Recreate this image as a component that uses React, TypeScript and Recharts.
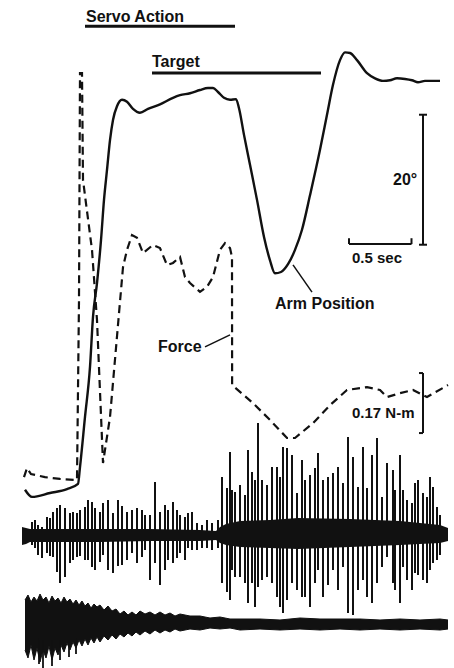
import { ComposedChart, Line, Area, XAxis, YAxis, ReferenceLine } from 'recharts'

// time in ms (0.5 sec scale bar = 500), arm position in degrees, force in N-m,
// EMG amplitudes in arbitrary units around each trace's baseline

const posTime = [24, 80, 224, 360, 448, 464, 504, 544, 568, 600, 632, 656, 680, 704, 728, 760, 800, 840, 888, 944, 1008, 1104, 1208, 1264, 1344, 1424, 1488, 1528, 1568, 1616, 1664, 1712, 1736, 1776, 1824, 1880, 1936, 1984, 2024, 2072, 2128, 2184, 2240, 2304, 2384, 2440, 2488, 2544, 2584, 2624, 2680, 2760, 2824, 2888, 2944, 3000, 3064, 3120, 3168, 3224, 3344]
const posDeg = [0.5, -0.6, 0, 0.6, 1.4, 4.0, 11.7, 19.4, 27.1, 32.3, 38.9, 45.1, 49.7, 54.3, 57.4, 59.5, 60.5, 60.2, 59.1, 58.5, 59.1, 59.8, 60.8, 61.2, 61.5, 62.0, 62.3, 62.3, 61.7, 60.8, 60.5, 60.6, 59.2, 55.1, 50.5, 45.1, 39.4, 35.8, 33.8, 34.0, 35.2, 37.4, 40.5, 45.8, 52.8, 58.2, 62.8, 66.6, 67.8, 67.7, 66.6, 64.6, 63.8, 63.4, 63.5, 63.8, 63.7, 63.5, 63.2, 63.4, 63.4]

const forceTime = [16, 40, 72, 184, 304, 440, 456, 464, 480, 488, 560, 600, 648, 704, 808, 840, 880, 920, 968, 1048, 1104, 1160, 1208, 1264, 1304, 1344, 1424, 1480, 1528, 1584, 1624, 1664, 1680, 1681, 1848, 1984, 2120, 2184, 2328, 2464, 2600, 2760, 2864, 2920, 3024, 3128, 3240, 3408]
const forceNm = [0.008, 0.034, 0.017, 0.008, 0.003, 0, 0.51, 1.153, 1.153, 0.85, 0.652, 0.453, 0.048, 0.178, 0.603, 0.652, 0.694, 0.686, 0.643, 0.666, 0.657, 0.609, 0.615, 0.632, 0.575, 0.558, 0.533, 0.547, 0.575, 0.652, 0.671, 0.657, 0.632, 0.269, 0.218, 0.17, 0.119, 0.119, 0.161, 0.212, 0.255, 0.263, 0.255, 0.235, 0.246, 0.255, 0.235, 0.269]

const emg1Time = [80, 104, 128, 160, 200, 224, 248, 280, 304, 344, 384, 408, 440, 464, 504, 528, 560, 584, 624, 648, 688, 728, 768, 800, 840, 880, 920, 960, 984, 1024, 1064, 1104, 1144, 1168, 1208, 1240, 1264, 1304, 1328, 1360, 1400, 1440, 1480, 1520, 1568,
  1600, 1640, 1664, 1680, 1704, 1744, 1784, 1808, 1840, 1864, 1888, 1920, 1960, 2000, 2040, 2064, 2088, 2120, 2160, 2200, 2240, 2264, 2304, 2344, 2368, 2408, 2448, 2488, 2528, 2568, 2608, 2648, 2688, 2728, 2760, 2800, 2840, 2880, 2920, 2968, 2984, 3024, 3048, 3080, 3120, 3144, 3168, 3208, 3240, 3264, 3288, 3320, 3344]
const emg1Up = [13, 15, 10, 8, 18, 17, 23, 27, 30, 27, 22, 23, 22, 25, 28, 35, 33, 27, 23, 32, 35, 22, 35, 29, 23, 25, 27, 25, 20, 20, 53, 23, 30, 25, 33, 25, 20, 18, 22, 23, 12, 10, 15, 12, 15,
  58, 47, 83, 45, 43, 50, 40, 85, 63, 55, 112, 55, 50, 68, 68, 58, 88, 87, 80, 42, 75, 55, 60, 67, 82, 55, 58, 62, 68, 52, 98, 78, 48, 88, 47, 80, 97, 38, 72, 65, 45, 80, 45, 35, 32, 52, 55, 42, 38, 58, 48, 28, 20]
const emg1Down = [-10, -13, -20, -23, -18, -21, -22, -37, -48, -42, -28, -25, -22, -21, -25, -25, -32, -35, -27, -20, -35, -38, -31, -30, -25, -18, -28, -22, -15, -45, -28, -50, -35, -25, -28, -23, -18, -25, -13, -15, -15, -13, -13, -15, -13,
  -48, -57, -65, -35, -42, -42, -48, -68, -48, -72, -52, -45, -42, -48, -62, -72, -78, -65, -48, -55, -62, -62, -72, -48, -35, -62, -50, -35, -55, -32, -78, -80, -55, -45, -62, -68, -48, -32, -22, -48, -55, -68, -32, -45, -55, -38, -40, -45, -48, -35, -28, -25, -20]

const emg1BandTime = [0, 32, 64, 624, 1024, 1424, 1552, 1584, 1632, 1744, 1984, 2208, 2624, 3024, 3344, 3408]
const emg1BandHi = [8, 7, 6, 6, 6, 5, 4, 8, 11, 14, 15, 17, 16, 14, 10, 7]
const emg1BandLo = [-10, -9, -7, -7, -6, -6, -5, -8, -10, -12, -13, -14, -12, -10, -8, -6]

const emg2Time = [24, 48, 72, 96, 120, 144, 168, 192, 216, 240, 264, 288, 312, 336, 360, 384, 408, 432, 456, 480, 504, 528, 552, 576, 600, 624, 656, 688, 720, 752, 784, 816, 848, 880, 912, 944, 984, 1024, 1064, 1104, 1144, 1184, 1224, 1264, 1344, 1424, 1504, 1584, 1664, 1744, 1904, 2064, 2224, 2384, 2544, 2704, 2864, 3024, 3184, 3344, 3408]
const emg2Hi = [24, 29, 22, 27, 23, 30, 24, 27, 21, 28, 23, 26, 21, 27, 22, 25, 20, 24, 19, 23, 18, 21, 16, 20, 17, 19, 14, 18, 13, 15, 10, 13, 9, 12, 9, 13, 10, 12, 9, 12, 9, 11, 8, 10, 8, 8, 6, 7, 5, 5, 5, 4, 6, 5, 5, 5, 4, 5, 4, 5, 4]
const emg2Lo = [-26, -34, -21, -36, -24, -38, -26, -34, -22, -36, -24, -31, -21, -28, -19, -26, -18, -24, -16, -22, -15, -21, -14, -19, -13, -18, -12, -16, -11, -15, -10, -13, -9, -12, -8, -11, -7, -10, -6, -9, -6, -8, -5, -7, -5, -6, -4, -5, -4, -6, -5, -6, -5, -6, -5, -6, -5, -6, -5, -6, -5]

// a few stray strokes hanging below the early part of the lower EMG trace
const emg2StrokeTime = [136, 168, 240, 304, 376, 432]
const emg2StrokeLow = [-40, -44, -42, -36, -33, -30]

const posData = posTime.map((t, i) => ({ t, deg: posDeg[i] }))
const forceData = forceTime.map((t, i) => ({ t, nm: forceNm[i] }))
const emg1Data = emg1Time.flatMap((t, i) => [
  { t, v: 0 },
  { t, v: emg1Up[i] },
  { t, v: emg1Down[i] },
  { t, v: 0 },
])
const emg1Band = emg1BandTime.map((t, i) => ({ t, range: [emg1BandLo[i], emg1BandHi[i]] }))
const emg2Band = emg2Time.map((t, i) => ({ t, range: [emg2Lo[i], emg2Hi[i]] }))
const emg2Strokes = emg2StrokeTime.flatMap((t, i) => [
  { t, v: -15 },
  { t, v: emg2StrokeLow[i] },
  { t, v: -15 },
])

const ink = '#111'
const font = { fontFamily: '"Liberation Sans", Arial, sans-serif', fontWeight: 700, fill: ink }

export default function App() {
  return (
    <div style={{ position: 'absolute', left: 0, top: 0, width: 454, height: 668, background: '#fff' }}>
      <ComposedChart width={454} height={668} margin={{ top: 0, right: 0, bottom: 0, left: 0 }}>
        <XAxis type="number" dataKey="t" domain={[-176, 3456]} hide allowDataOverflow />
        <YAxis yAxisId="deg" type="number" domain={[-26.92, 75.85]} hide allowDataOverflow />
        <YAxis yAxisId="nm" type="number" domain={[-0.5327, 1.36]} hide allowDataOverflow />
        <YAxis yAxisId="emg1" type="number" domain={[-133, 535]} hide allowDataOverflow />
        <YAxis yAxisId="emg2" type="number" domain={[-44, 624]} hide allowDataOverflow />

        <Area yAxisId="emg1" data={emg1Band} dataKey="range" type="linear" stroke="none" fill={ink} fillOpacity={1} dot={false} activeDot={false} isAnimationActive={false} />
        <Line yAxisId="emg1" data={emg1Data} dataKey="v" type="linear" stroke={ink} strokeWidth={2} dot={false} activeDot={false} isAnimationActive={false} />
        <Area yAxisId="emg2" data={emg2Band} dataKey="range" type="linear" stroke={ink} strokeWidth={1} fill={ink} fillOpacity={1} dot={false} activeDot={false} isAnimationActive={false} />
        <Line yAxisId="emg2" data={emg2Strokes} dataKey="v" type="linear" stroke={ink} strokeWidth={1.8} dot={false} activeDot={false} isAnimationActive={false} />

        <Line yAxisId="deg" data={posData} dataKey="deg" type="monotone" stroke={ink} strokeWidth={2.4} dot={false} activeDot={false} isAnimationActive={false} />
        <Line yAxisId="nm" data={forceData} dataKey="nm" type="linear" stroke={ink} strokeWidth={2.2} strokeDasharray="8 5" dot={false} activeDot={false} isAnimationActive={false} />

        {/* label bars */}
        <ReferenceLine yAxisId="deg" segment={[{ x: 504, y: 71.8 }, { x: 1704, y: 71.8 }]} stroke={ink} strokeWidth={3} />
        <ReferenceLine yAxisId="deg" segment={[{ x: 1040, y: 64.6 }, { x: 2392, y: 64.6 }]} stroke={ink} strokeWidth={3} />

        {/* 20 deg scale */}
        <ReferenceLine yAxisId="deg" segment={[{ x: 3208, y: 38.2 }, { x: 3208, y: 58.2 }]} stroke={ink} strokeWidth={2} />
        <ReferenceLine yAxisId="deg" segment={[{ x: 3176, y: 58.2 }, { x: 3240, y: 58.2 }]} stroke={ink} strokeWidth={2} />
        <ReferenceLine yAxisId="deg" segment={[{ x: 3176, y: 38.2 }, { x: 3240, y: 38.2 }]} stroke={ink} strokeWidth={2} />

        {/* 0.5 sec scale */}
        <ReferenceLine yAxisId="deg" segment={[{ x: 2616, y: 38.3 }, { x: 3116, y: 38.3 }]} stroke={ink} strokeWidth={2} />
        <ReferenceLine yAxisId="deg" segment={[{ x: 2616, y: 38.3 }, { x: 2616, y: 39.2 }]} stroke={ink} strokeWidth={2} />
        <ReferenceLine yAxisId="deg" segment={[{ x: 3116, y: 38.3 }, { x: 3116, y: 39.2 }]} stroke={ink} strokeWidth={2} />

        {/* 0.17 N-m scale */}
        <ReferenceLine yAxisId="nm" segment={[{ x: 3208, y: 0.133 }, { x: 3208, y: 0.303 }]} stroke={ink} strokeWidth={2} />
        <ReferenceLine yAxisId="nm" segment={[{ x: 3176, y: 0.303 }, { x: 3208, y: 0.303 }]} stroke={ink} strokeWidth={2} />
        <ReferenceLine yAxisId="nm" segment={[{ x: 3176, y: 0.133 }, { x: 3208, y: 0.133 }]} stroke={ink} strokeWidth={2} />

        {/* leaders */}
        <ReferenceLine yAxisId="deg" segment={[{ x: 2168, y: 35.1 }, { x: 2320, y: 30.9 }]} stroke={ink} strokeWidth={1.5} />
        <ReferenceLine yAxisId="nm" segment={[{ x: 1464, y: 0.377 }, { x: 1664, y: 0.411 }]} stroke={ink} strokeWidth={1.5} />
      </ComposedChart>

      <svg width={454} height={668} style={{ position: 'absolute', left: 0, top: 0, pointerEvents: 'none' }}>
        <text x={86} y={22} fontSize={16} {...font}>Servo Action</text>
        <text x={152} y={67} fontSize={16} {...font}>Target</text>
        <text x={393} y={185} fontSize={16} {...font}>20°</text>
        <text x={352} y={263} fontSize={15} {...font}>0.5 sec</text>
        <text x={275} y={309} fontSize={16} {...font}>Arm Position</text>
        <text x={158} y={352} fontSize={16} {...font}>Force</text>
        <text x={352} y={418} fontSize={15} {...font}>0.17 N-m</text>
      </svg>
    </div>
  )
}
